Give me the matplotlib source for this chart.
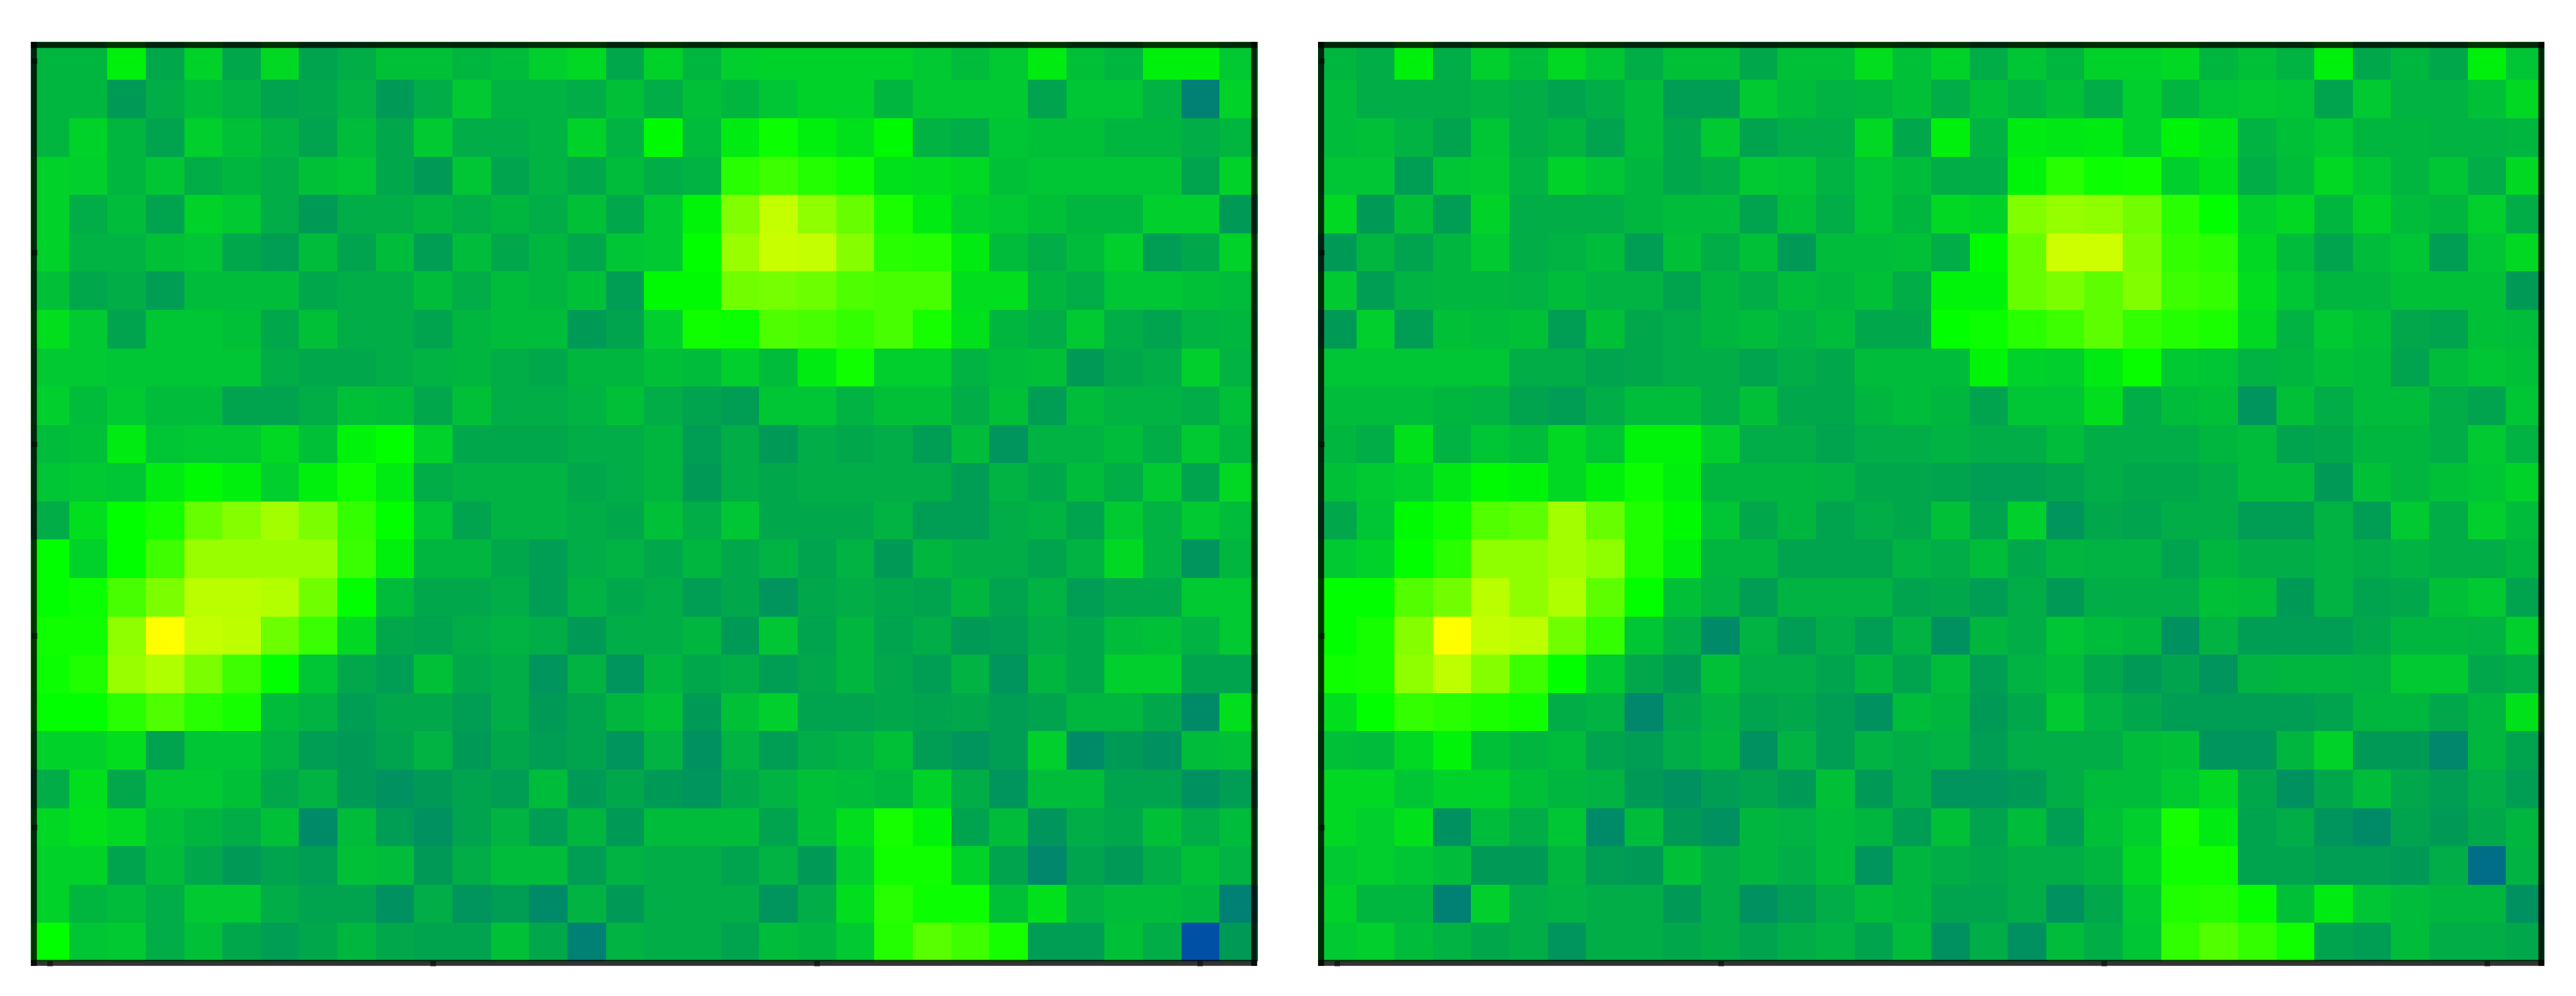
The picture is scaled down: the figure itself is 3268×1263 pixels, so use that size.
import numpy as np
import matplotlib
matplotlib.use('Agg')
import matplotlib.pyplot as plt
from matplotlib.colors import LinearSegmentedColormap

left_rows = [
    [35,35,47,32,41,32,42,31,33,37,37,35,36,40,42,32, 41,35,40,41,41,41,41,39,36,39,46,37,35,47,47,39],
    [35,35,29,33,36,34,31,32,34,29,33,39,34,34,33,37, 33,37,35,38,41,41,35,39,39,39,31,38,38,34,24,41],
    [35,41,35,31,40,37,34,31,36,32,39,33,33,34,41,34, 49,36,46,52,47,44,49,34,33,38,37,37,35,35,33,35],
    [41,40,35,38,33,35,33,37,38,32,29,38,31,34,32,36, 33,34,58,62,57,53,44,43,42,37,38,38,38,38,31,41],
    [41,33,36,31,41,39,33,29,33,33,35,33,35,33,37,32, 39,48,75,88,78,70,55,46,40,39,37,35,35,40,40,29],
    [41,34,34,37,38,32,30,36,31,36,30,36,32,35,32,38, 39,50,80,89,88,76,58,57,46,36,33,36,40,30,32,41],
    [37,32,33,30,36,36,36,32,33,33,36,33,36,35,37,30, 49,49,72,73,71,65,64,64,43,43,35,33,38,38,37,36],
    [43,39,31,38,38,37,32,37,33,33,31,35,36,36,29,31, 40,53,52,65,64,60,64,54,44,35,33,39,33,31,34,35],
    [39,39,38,38,38,38,33,32,32,33,34,35,33,32,35,35, 37,36,40,36,46,53,40,40,34,36,37,29,32,33,40,34],
    [40,36,39,36,36,31,31,33,37,36,32,37,33,33,34,37, 33,31,30,38,38,34,37,37,33,37,30,36,34,34,33,37],
    [36,37,46,38,39,39,42,37,48,50,41,32,32,32,33,33, 35,30,33,29,33,32,33,30,36,28,34,34,36,33,39,35],
    [38,39,38,46,49,47,40,47,53,46,33,34,34,34,32,33, 35,29,33,32,33,33,33,33,30,34,32,36,33,39,31,42],
    [33,43,50,54,70,76,82,74,60,50,38,31,34,34,33,32, 37,33,38,32,32,32,34,30,30,33,34,31,39,34,39,36],
    [50,41,50,62,80,80,80,80,61,47,35,35,32,30,33,34, 32,35,32,34,31,34,29,35,33,33,31,34,42,34,28,35],
    [50,52,64,74,86,86,85,72,50,36,32,32,33,30,34,32, 33,30,32,28,32,33,32,31,35,31,34,30,32,32,39,39],
    [53,53,78,100,88,87,71,61,42,32,31,33,34,33,29,33, 33,35,29,38,31,35,31,33,29,30,33,32,36,37,34,39],
    [52,56,80,84,74,62,50,38,32,30,37,32,33,28,34,28, 35,32,33,30,32,35,32,30,34,28,35,32,40,40,31,31],
    [50,50,58,65,58,54,36,34,30,32,32,30,33,29,31,35, 37,29,37,40,31,31,32,31,32,30,31,35,35,32,26,43],
    [41,41,43,31,38,38,34,30,29,31,34,29,32,30,31,28, 34,27,34,30,33,34,37,30,28,30,40,26,29,27,36,37],
    [33,43,32,39,39,37,32,34,29,27,29,31,30,36,29,32, 29,28,32,34,37,36,35,41,33,28,36,36,31,31,27,30],
    [42,44,42,37,35,33,37,26,36,30,27,31,34,30,35,29, 36,36,36,31,37,43,54,48,31,36,28,33,32,37,33,36],
    [41,41,31,36,32,29,31,30,37,36,29,33,36,36,30,34, 33,33,31,34,29,40,53,53,41,31,25,31,29,33,37,34],
    [41,35,36,33,39,39,33,31,31,27,33,28,30,26,34,29, 33,33,33,28,33,43,58,52,52,37,44,34,36,36,35,24],
    [50,38,39,33,37,32,30,32,35,32,31,31,37,32,24,34, 33,33,31,36,35,39,57,67,62,54,30,30,37,33,16,29],
]

right_rows = [
    [35,33,47,33,40,36,42,38,33,37,37,32,37,37,43,37, 41,33,38,35,41,41,42,35,37,34,47,32,35,32,47,38],
    [36,33,33,33,34,33,31,33,36,30,30,39,36,34,35,37, 33,37,34,37,33,40,35,38,39,38,31,39,34,34,37,42],
    [36,37,34,31,38,33,35,31,36,32,39,31,33,33,42,32, 47,34,46,45,46,40,48,45,34,37,39,35,35,34,34,35],
    [38,38,30,38,39,34,41,38,35,32,33,39,38,34,38,36, 33,33,48,58,52,53,40,44,33,36,42,38,35,38,33,42],
    [42,29,37,30,41,33,33,33,35,36,36,31,37,33,38,35, 42,41,75,79,78,72,58,50,40,42,35,41,36,35,40,33],
    [29,35,31,35,39,33,34,36,30,37,33,37,29,36,36,37, 33,49,70,90,90,74,60,58,42,36,31,36,38,30,38,42],
    [39,30,34,35,35,34,36,34,34,31,35,33,36,35,37,33, 48,48,70,74,68,75,62,60,43,38,35,35,37,37,37,29],
    [29,40,30,37,36,37,30,37,32,33,35,36,34,36,32,32, 50,52,58,62,68,60,57,55,42,34,39,37,32,31,37,36],
    [38,38,38,38,38,33,33,31,32,33,33,31,33,32,36,36, 36,48,41,40,46,51,39,38,34,35,37,36,31,36,38,37],
    [36,36,36,35,34,31,30,33,36,36,33,37,32,32,35,36, 35,31,38,38,43,33,36,37,28,37,33,36,36,33,31,38],
    [35,33,44,34,38,36,42,38,48,48,40,33,33,31,33,33, 34,33,33,36,33,33,33,35,36,31,32,35,35,33,39,34],
    [37,39,40,45,49,48,42,47,52,47,35,35,35,34,32,32, 31,30,30,31,33,32,32,33,36,36,29,37,35,37,38,41],
    [32,38,49,53,66,68,82,70,56,49,38,32,35,31,33,32, 37,31,40,28,32,31,33,33,30,30,34,30,39,33,40,36],
    [39,41,50,58,78,78,82,78,56,47,35,35,31,31,31,34, 33,36,32,35,34,34,31,35,33,33,34,33,34,33,33,35],
    [50,50,66,72,86,78,84,68,50,37,34,30,34,34,34,31, 32,30,33,29,33,33,33,37,36,29,34,31,32,37,39,31],
    [50,54,76,100,88,87,72,60,38,33,26,34,30,33,30,34, 27,35,33,38,36,35,27,34,30,30,30,32,35,35,34,40],
    [53,54,78,87,76,62,50,39,32,29,37,33,33,31,35,31, 36,30,34,36,32,29,31,28,34,35,35,34,39,39,32,33],
    [43,50,60,58,55,53,33,34,25,32,34,31,32,30,27,36, 35,29,32,39,34,32,30,30,30,30,31,35,35,32,35,44],
    [37,36,42,48,37,35,36,31,30,33,35,27,34,30,34,33, 34,30,33,33,33,36,37,28,28,35,41,29,29,25,35,31],
    [42,42,38,41,41,37,35,34,29,27,30,31,29,37,29,33, 28,28,29,33,36,36,39,42,32,27,32,36,32,30,33,30],
    [42,40,44,27,36,33,38,26,36,29,27,35,34,36,35,30, 37,31,36,30,37,40,54,46,31,33,28,26,31,29,32,35],
    [39,40,38,36,29,29,35,30,29,37,33,35,33,36,28,35, 33,32,33,33,35,42,53,53,31,31,30,30,29,33,21,34],
    [41,35,35,24,40,33,34,33,33,29,33,27,30,33,36,35, 31,31,33,27,32,39,56,57,51,37,46,38,36,35,35,27],
    [39,40,36,34,32,33,28,33,33,32,33,31,33,34,31,36, 27,33,27,36,33,38,59,66,60,53,31,30,36,33,33,32],
]

x_ticks = [0, 10, 20, 30]
y_ticks = [0, 5, 10, 15, 20]

W, H = 3268, 1264
cmap = LinearSegmentedColormap.from_list('bgy', [
    (0.00, '#0000ff'),
    (0.16, '#0052a5'),
    (0.24, '#008273'),
    (0.28, '#00965c'),
    (0.33, '#00ae46'),
    (0.40, '#00cf2d'),
    (0.50, '#00ff00'),
    (1.00, '#ffff00'),
])

fig = plt.figure(figsize=(W / 300, H / 300), dpi=300, facecolor='white')

for rows, x0, x1 in [(left_rows, 42.5, 1591), (right_rows, 1676, 3224)]:
    ax = fig.add_axes([x0 / W, 1 - 1221.5 / H, (x1 - x0) / W, 1163.5 / H])
    ax.imshow(np.array(rows), cmap=cmap, vmin=0, vmax=100, aspect='auto',
              interpolation='nearest', clip_on=False)
    # image runs on under the top and side frame lines
    ax.set_xlim(-0.5 + 0.082, 31.5 - 0.082)
    ax.set_ylim(23.5 + 0.041, -0.5 + 0.082)
    ax.set_xticks(x_ticks)
    ax.set_yticks(y_ticks)
    ax.set_xticklabels([])
    ax.set_yticklabels([])
    ax.tick_params(direction='inout', length=1.68, width=1.7, color=(0, 0, 0, 0.5))
    for s in ax.spines.values():
        s.set_linewidth(1.8)
        s.set_color('black')
        s.set_alpha(0.8)

fig.savefig('out.png', dpi=300)
